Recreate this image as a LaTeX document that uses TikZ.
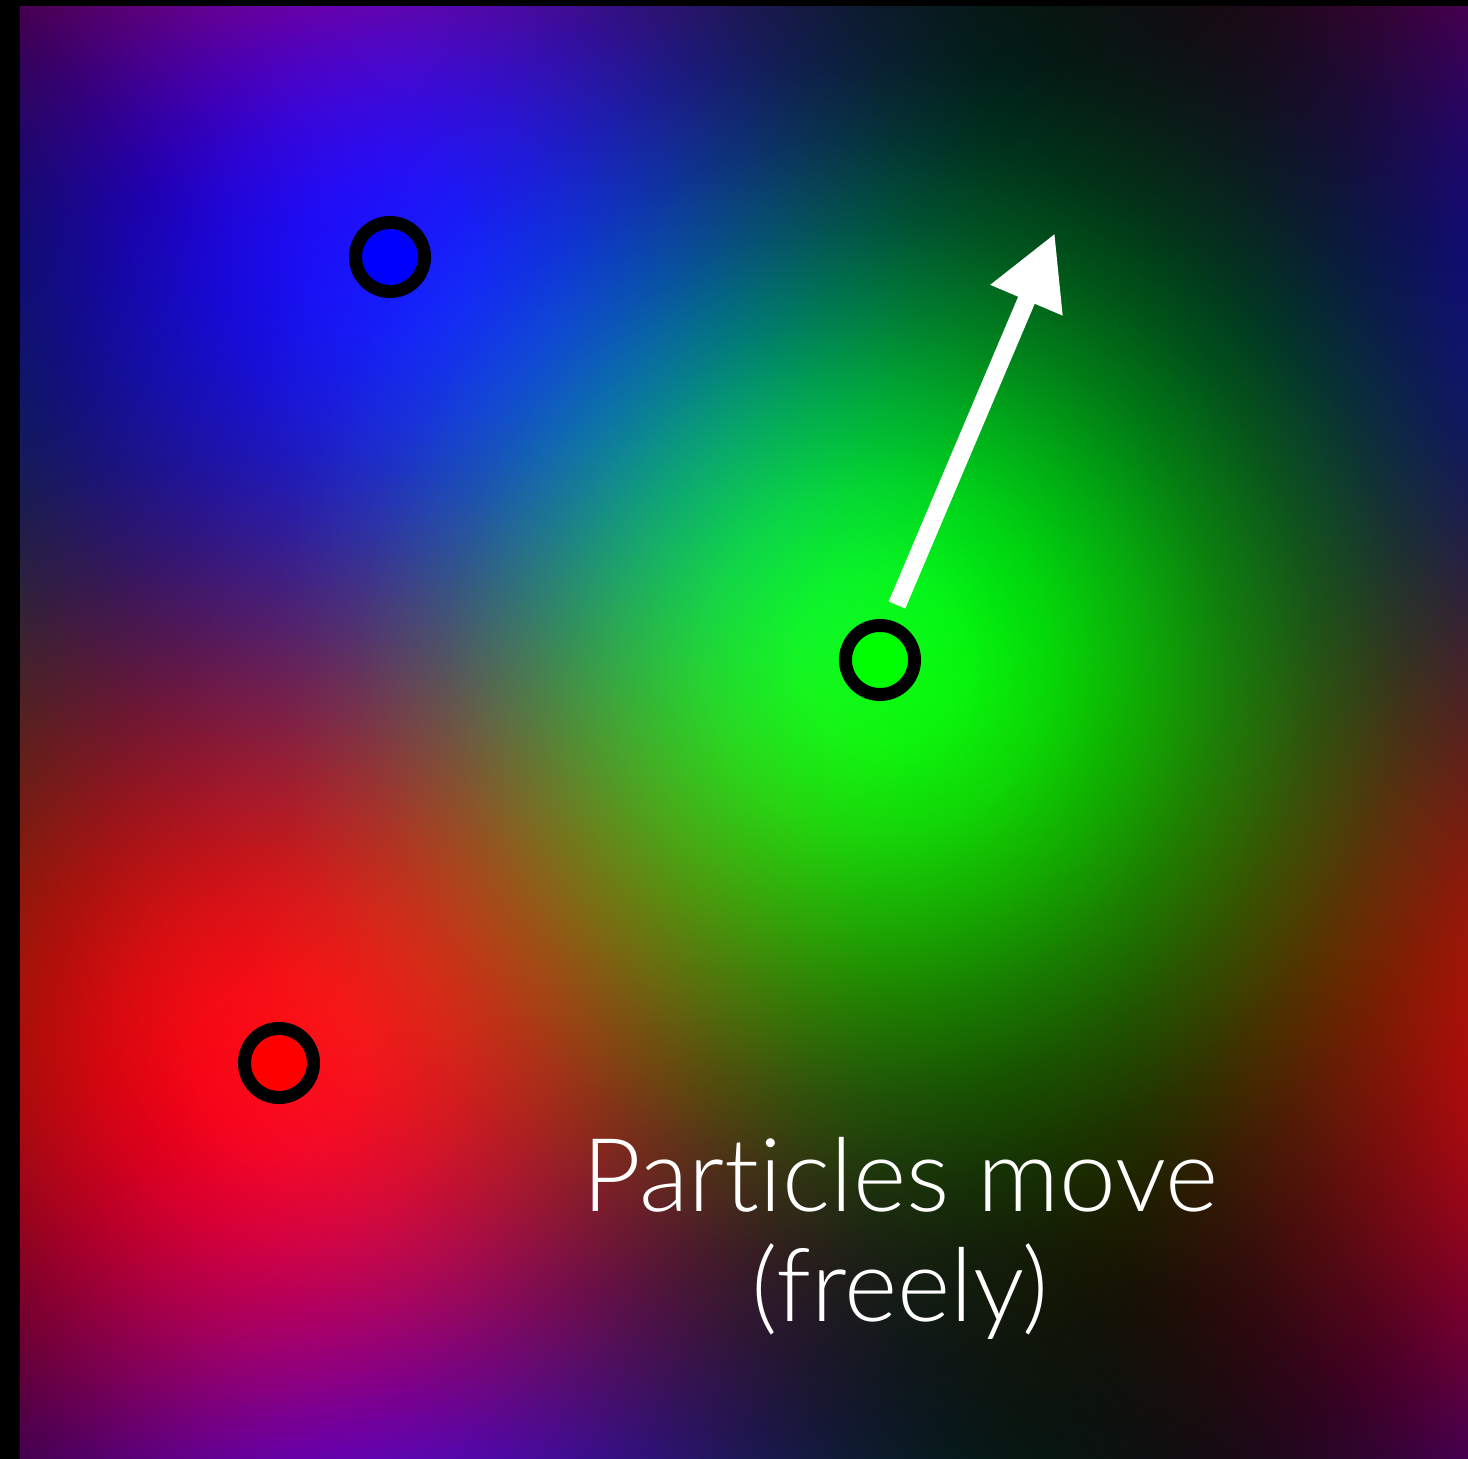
\documentclass[tikz,border=0pt]{standalone}
\usepackage{fontspec}
\newfontfamily\labfont[Ligatures=NoCommon]{Lato Light}
\usetikzlibrary{arrows.meta}
\newcommand\mkblob[2]{\pgfdeclareradialshading{#1}{\pgfpoint{0bp}{0bp}}{color(0bp)=(#2); color(2.5bp)=(#2!95.6!black); color(5bp)=(#2!83.5!black); color(7.5bp)=(#2!66.7!black); color(10bp)=(#2!48.7!black); color(12.5bp)=(#2!32.5!black); color(15bp)=(#2!19.8!black); color(17.5bp)=(#2!11!black); color(20bp)=(#2!5.6!black); color(22.5bp)=(#2!2.6!black); color(25bp)=(black); color(50bp)=(black)}}
\mkblob{blobred}{red}
\mkblob{blobgreen}{green}
\mkblob{blobblue}{blue}
\tikzset{
  particle/.style={circle, draw=black, line width=0.13cm, minimum size=0.69cm, inner sep=0pt},
  movearrow/.style={draw=white, line width=0.18cm, -{Triangle[length=0.73cm, width=0.73cm]}},
  caption/.style={text=white, font=\labfont\fontsize{29}{31.3}\selectfont, align=center, inner sep=0pt}
}
\begin{document}
\begin{tikzpicture}[x=0.01cm, y=0.01cm]
% y values below are 1459 - (pixel row)
\useasboundingbox (0,0) rectangle (1468,1459);
\fill[black] (0,0) rectangle (1468,1459);
\begin{scope}
  \clip (20,0) rectangle (1468,1452);
  \begin{scope}[blend mode=screen]
    \foreach \dx in {-1448,0,1448} {
      \foreach \dy in {-1452,0,1452} {
        \shade[shading=blobred] (279+\dx,396+\dy) circle[radius=8.7cm];
        \shade[shading=blobgreen] (880+\dx,799+\dy) circle[radius=8.7cm];
        \shade[shading=blobblue] (390+\dx,1202+\dy) circle[radius=8.7cm];
      }
    }
  \end{scope}
\end{scope}
\node[particle, fill=blue] (pblue) at (390,1202) {};
\node[particle, fill=green] (pgreen) at (880,799) {};
\node[particle, fill=red] (pred) at (279,396) {};
\coordinate (astart) at (897,854);
\coordinate (atip) at (1055,1226);
\draw[movearrow] (astart) -- (atip);
\node[caption] (label) at (900,221) {Particles move\\(freely)};
\end{tikzpicture}
\end{document}
